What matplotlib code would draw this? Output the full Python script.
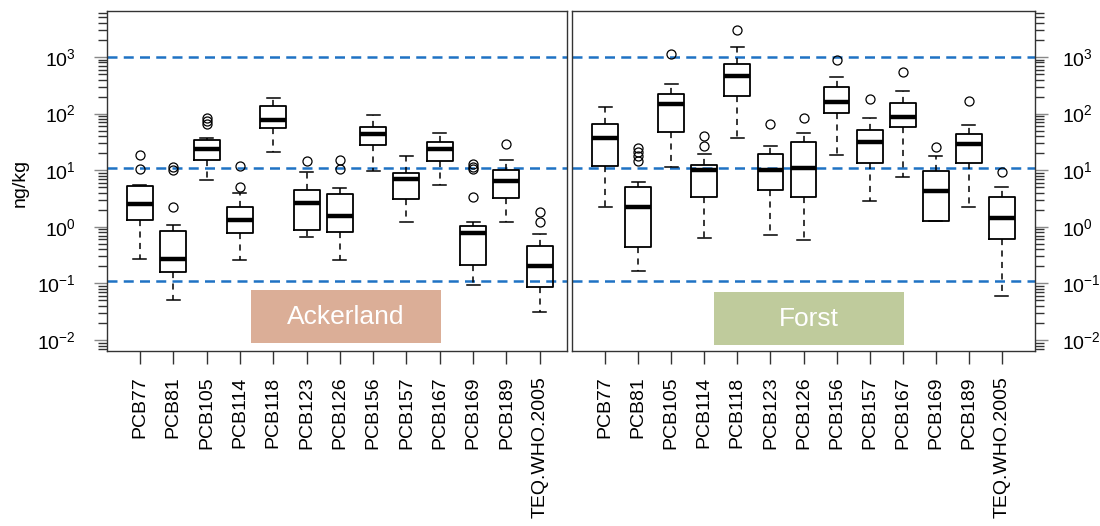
import matplotlib
matplotlib.use("Agg")
import matplotlib.pyplot as plt
from matplotlib.patches import Rectangle
from matplotlib.ticker import LogLocator, NullFormatter

plt.rcParams['font.family'] = ['Liberation Sans', 'DejaVu Sans']
plt.rcParams['mathtext.fontset'] = 'custom'
plt.rcParams['mathtext.rm'] = 'Liberation Sans'

congeners = ['PCB77', 'PCB81', 'PCB105', 'PCB114', 'PCB118', 'PCB123', 'PCB126',
             'PCB156', 'PCB157', 'PCB167', 'PCB169', 'PCB189', 'TEQ.WHO.2005']

# Ackerland: whisker low, q1, median, q3, whisker high, outliers (ng/kg)
acker_lo = [0.27, 0.052, 6.7, 0.26, 21.0, 0.65, 0.26, 9.7, 1.23, 5.55, 0.092, 1.23, 0.031]
acker_q1 = [1.34, 0.161, 15.1, 0.77, 56.4, 0.89, 0.80, 28.2, 3.06, 14.5, 0.209, 3.23, 0.087]
acker_med = [2.53, 0.273, 23.7, 1.30, 77.0, 2.63, 1.57, 43.1, 7.08, 23.7, 0.777, 6.37, 0.20]
acker_q3 = [5.26, 0.853, 33.7, 2.26, 134.6, 4.42, 3.80, 58.7, 9.03, 31.5, 1.05, 10.2, 0.458]
acker_hi = [5.5, 1.09, 37.5, 4.0, 191, 9.18, 4.91, 94.5, 18.0, 44.9, 1.23, 15.3, 0.755]
acker_out = [[10.5, 18.8], [2.24, 10.0, 11.5], [65.5, 75, 82.6], [4.99, 12.0], [],
             [14.5], [10.6, 15.0], [], [], [], [3.4, 10.5, 11.5, 12.8], [28.7], [1.23, 1.85]]

# Forst
forst_lo = [2.21, 0.164, 11.5, 0.634, 37.1, 0.708, 0.577, 18.6, 2.86, 7.59, 1.25, 2.21, 0.060]
forst_q1 = [11.7, 0.434, 46.7, 3.32, 202, 4.52, 3.32, 102.5, 13.4, 57.3, 1.25, 13.4, 0.601]
forst_med = [37.1, 2.21, 150, 9.96, 467, 9.96, 11.1, 158, 31.1, 88.2, 4.29, 29.4, 1.45]
forst_q3 = [64.7, 5.05, 225, 12.4, 743, 19.6, 31.1, 292, 52, 156, 9.8, 44.2, 3.32]
forst_hi = [132, 6.19, 338, 19.6, 1503, 26.8, 44.9, 443, 84.7, 251, 17.8, 63.7, 4.99]
forst_out = [[], [14.5, 17.5, 20.7, 24.7], [1143], [26.8, 40.7], [3035], [64.7], [83.6],
             [875], [181], [543], [25.7], [165], [9.4]]

limit_lines = [1000, 11, 0.11]

W, H = 1100, 526
fig = plt.figure(figsize=(11, 5.26), dpi=100)

def px_axes(x0, x1, y0, y1):
    return fig.add_axes([x0 / W, 1 - y1 / H, (x1 - x0) / W, (y1 - y0) / H])

ax1 = px_axes(107, 567, 11, 351)
ax2 = px_axes(572, 1035, 11, 351)

def draw(ax, lo, q1, med, q3, hi, out, xlim):
    stats = []
    for i in range(len(congeners)):
        stats.append(dict(whislo=lo[i], q1=q1[i], med=med[i], q3=q3[i], whishi=hi[i], fliers=out[i]))
    pos = list(range(1, len(congeners) + 1))
    ax.bxp(stats, positions=pos, widths=0.78, capwidths=0.39, showfliers=True,
           boxprops=dict(color='black', linewidth=1.3),
           medianprops=dict(color='black', linewidth=3.2, solid_capstyle='butt'),
           whiskerprops=dict(color='black', linewidth=1.1, linestyle=(0, (4, 3.5))),
           capprops=dict(color='black', linewidth=1.1),
           flierprops=dict(marker='o', markersize=6.5, markerfacecolor='none',
                           markeredgecolor='black', markeredgewidth=0.9))
    for v in limit_lines:
        ax.axhline(v, color='#1f72c4', linewidth=1.8, linestyle=(0, (4, 2.5)), zorder=0)
    ax.set_yscale('log')
    ax.set_ylim(0.0064, 6500)
    ax.set_xlim(*xlim)
    ax.set_xticks(pos)
    ax.set_xticklabels(congeners, rotation=90, fontsize=14)
    ax.tick_params(axis='x', length=9.4, width=1.0, pad=9, color='#333333')
    ax.yaxis.set_major_locator(LogLocator(base=10, numticks=20))
    ax.yaxis.set_minor_locator(LogLocator(base=10, subs=range(2, 10), numticks=20))
    ax.yaxis.set_minor_formatter(NullFormatter())
    ax.set_yticks([0.01, 0.1, 1, 10, 100, 1000])
    ax.set_yticklabels([r'$\mathregular{10^{-2}}$', r'$\mathregular{10^{-1}}$', r'$\mathregular{10^{0}}$',
                        r'$\mathregular{10^{1}}$', r'$\mathregular{10^{2}}$', r'$\mathregular{10^{3}}$'],
                       fontsize=14)
    for s in ax.spines.values():
        s.set_color('#333333')
        s.set_linewidth(1.0)

draw(ax1, acker_lo, acker_q1, acker_med, acker_q3, acker_hi, acker_out, (0.01, 13.82))
draw(ax2, forst_lo, forst_q1, forst_med, forst_q3, forst_hi, forst_out, (0.0, 14.0))

ax1.tick_params(axis='y', which='major', left=True, right=False, length=9.5, width=1.0, pad=13, color='#888888')
ax1.tick_params(axis='y', which='minor', left=True, right=False, length=6.5, width=1.0, color='#333333')
ax2.tick_params(axis='y', which='both', left=False, right=True, labelleft=False, labelright=True)
ax2.tick_params(axis='y', which='major', length=9.5, width=1.0, pad=10, color='#888888')
ax2.tick_params(axis='y', which='minor', length=6.5, width=1.0, color='#333333')

fig.text(20 / W, 1 - 183 / H, 'ng/kg', rotation=90, ha='center', va='center', fontsize=14)

# region labels
for (x0, x1, y0, y1, col, txt) in [(251, 441, 290, 343, '#dbae97', 'Ackerland'),
                                   (714, 904, 292, 345, '#bfcb9c', 'Forst')]:
    fig.patches.append(Rectangle((x0 / W, 1 - y1 / H), (x1 - x0) / W, (y1 - y0) / H,
                                 transform=fig.transFigure, facecolor=col, edgecolor='none', zorder=5))
    fig.text((x0 + x1) / 2 / W, 1 - (y0 + y1) / 2 / H, txt, color='white', fontsize=19,
             ha='center', va='center', zorder=6)

fig.savefig('out.png', dpi=100)
